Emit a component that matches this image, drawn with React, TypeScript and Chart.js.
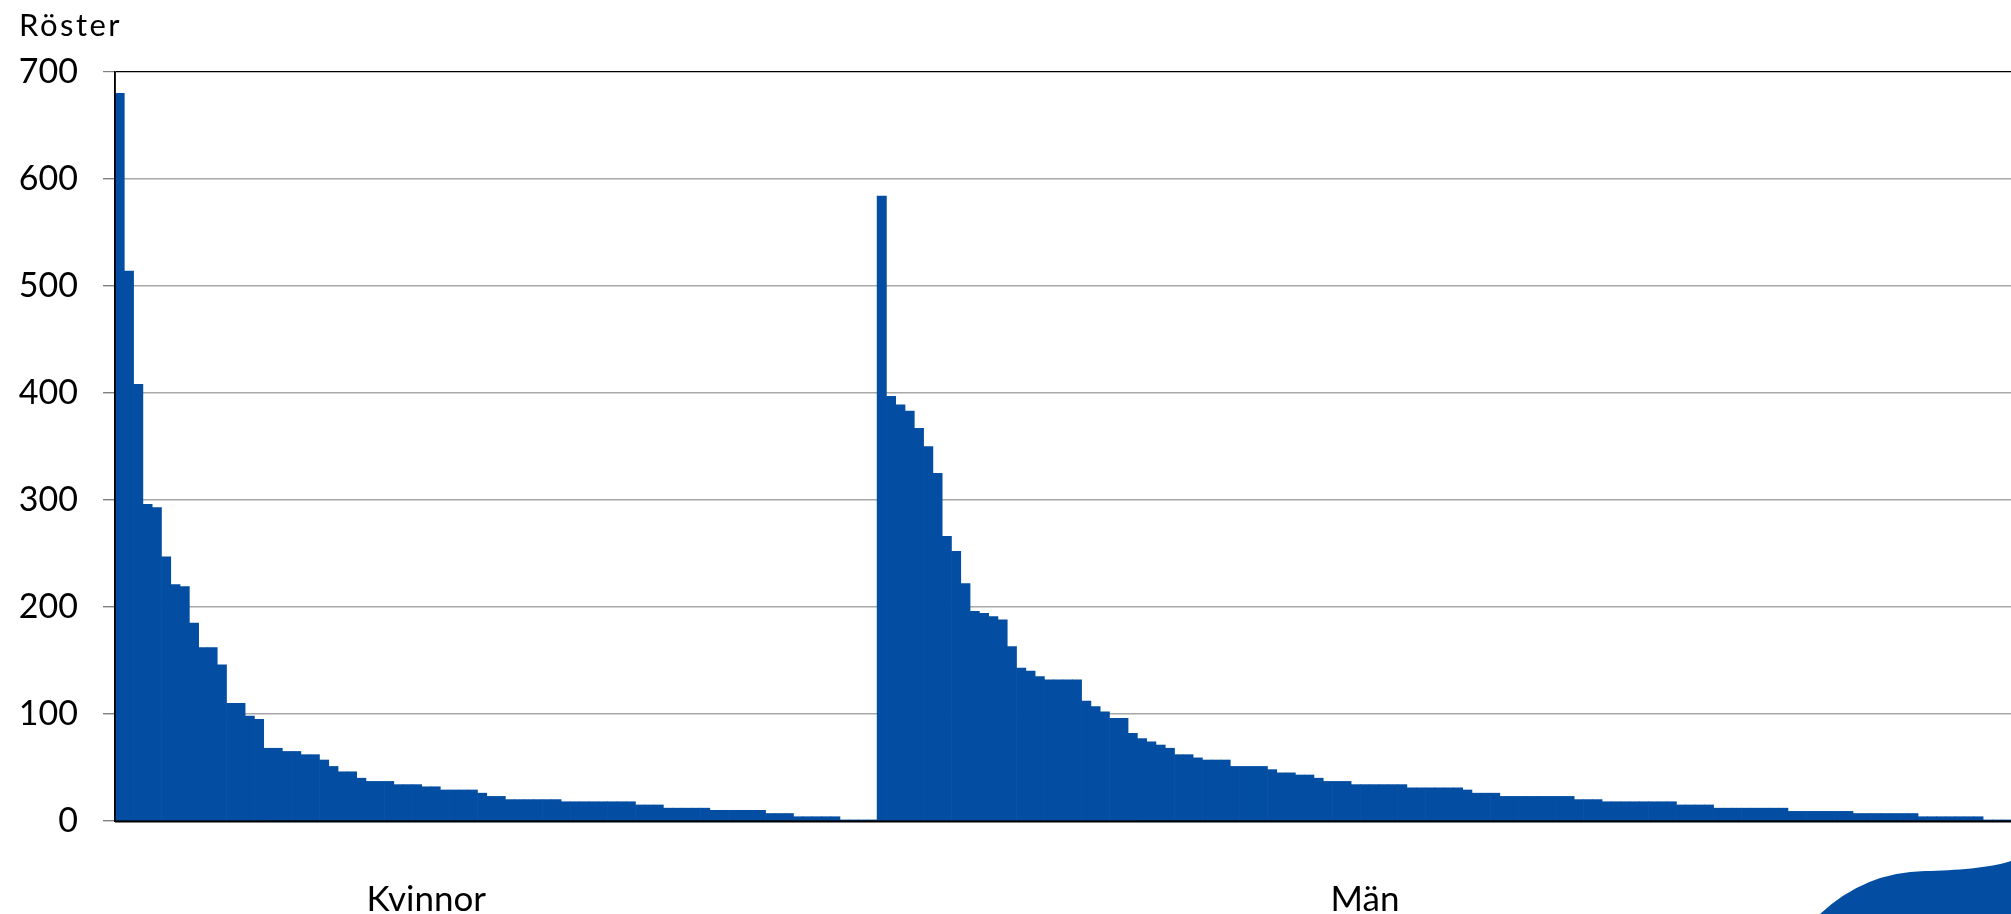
import React, { useEffect, useRef } from "react";
import { Chart, registerables } from "chart.js";

Chart.register(...registerables);

// Votes per candidate, sorted, women first then men
const kvinnorVotes: number[] = [
  680, 514, 408, 296, 293, 247, 221, 219, 185, 162, 162, 146, 110, 110, 98, 95,
  68, 68, 65, 65, 62, 62, 57, 51, 46, 46, 40, 37, 37, 37, 34, 34, 34, 32, 32,
  29, 29, 29, 29, 26, 23, 23, 20, 20, 20, 20, 20, 20, 18, 18, 18, 18, 18, 18,
  18, 18, 15, 15, 15, 12, 12, 12, 12, 12, 10, 10, 10, 10, 10, 10, 7, 7, 7, 4,
  4, 4, 4, 4, 1, 1, 1, 1,
];

const manVotes: number[] = [
  584, 397, 389, 383, 367, 350, 325, 266, 252, 222, 196, 194, 191, 188, 163,
  143, 140, 135, 132, 132, 132, 132, 112, 107, 102, 96, 96, 82, 77, 74, 71, 68,
  62, 62, 59, 57, 57, 57, 51, 51, 51, 51, 48, 45, 45, 43, 43, 40, 37, 37, 37,
  34, 34, 34, 34, 34, 34, 31, 31, 31, 31, 31, 31, 29, 26, 26, 26, 23, 23, 23,
  23, 23, 23, 23, 23, 20, 20, 20, 18, 18, 18, 18, 18, 18, 18, 18, 15, 15, 15,
  15, 12, 12, 12, 12, 12, 12, 12, 12, 9, 9, 9, 9, 9, 9, 9, 7, 7, 7, 7, 7, 7, 7,
  4, 4, 4, 4, 4, 4, 4, 1, 1, 1,
];

const groupNames: string[] = ["Kvinnor", "Män"];
const groupLabelIndex: number[] = [33, 134];
const yTickValues: number[] = [0, 100, 200, 300, 400, 500, 600, 700];
const yTitle = "Röster";

const barColor = "#034ea2";
const fontFamily = "Lato, 'Open Sans', sans-serif";

export default function App() {
  const canvasRef = useRef<HTMLCanvasElement | null>(null);

  useEffect(() => {
    const canvas = canvasRef.current;
    if (!canvas) return;

    const values = [...kvinnorVotes, ...manVotes];
    const labels = values.map((_, i) => {
      const g = groupLabelIndex.indexOf(i);
      return g >= 0 ? groupNames[g] : "";
    });

    const decorPlugin = {
      id: "decor",
      afterDatasetsDraw(chart: any) {
        const { ctx, chartArea } = chart;
        ctx.save();
        ctx.strokeStyle = "#000";
        ctx.lineWidth = 1.5;
        ctx.beginPath();
        ctx.moveTo(chartArea.left, chartArea.top);
        ctx.lineTo(chartArea.left, chartArea.bottom);
        ctx.stroke();
        ctx.lineWidth = 2;
        ctx.beginPath();
        ctx.moveTo(chartArea.left, chartArea.bottom + 0.5);
        ctx.lineTo(chartArea.right, chartArea.bottom + 0.5);
        ctx.stroke();
        ctx.restore();
      },
      afterDraw(chart: any) {
        const { ctx, chartArea, width, height } = chart;
        ctx.save();
        ctx.fillStyle = "#000";
        ctx.font = `31px ${fontFamily}`;
        ctx.textBaseline = "alphabetic";
        ctx.textAlign = "left";
        try {
          (ctx as any).letterSpacing = "2.5px";
        } catch (e) {
          /* ignore */
        }
        ctx.fillText(yTitle, chartArea.left - 96, chartArea.top - 36);
        try {
          (ctx as any).letterSpacing = "0px";
        } catch (e) {
          /* ignore */
        }
        // decorative wave in the bottom-right corner
        ctx.fillStyle = barColor;
        ctx.beginPath();
        ctx.moveTo(width - 191, height);
        ctx.quadraticCurveTo(width - 146, height - 42, width - 86, height - 43);
        ctx.bezierCurveTo(width - 56, height - 43.5, width - 21, height - 46, width, height - 53);
        ctx.lineTo(width, height);
        ctx.closePath();
        ctx.fill();
        ctx.restore();
      },
    };

    const chart = new Chart(canvas, {
      type: "bar",
      data: {
        labels,
        datasets: [
          {
            data: values,
            backgroundColor: barColor,
            borderWidth: 0,
            barPercentage: 1,
            categoryPercentage: 1,
          },
        ],
      },
      options: {
        animation: false,
        responsive: false,
        devicePixelRatio: 1,
        layout: { padding: { top: 72, right: 0, left: 0, bottom: 0 } },
        plugins: {
          legend: { display: false },
          tooltip: { enabled: false },
          title: { display: false },
        },
        scales: {
          x: {
            type: "category",
            offset: true,
            grid: { display: false, drawTicks: false },
            border: { display: true, color: "#000", width: 2 },
            ticks: {
              autoSkip: false,
              maxRotation: 0,
              minRotation: 0,
              padding: 58,
              color: "#000",
              font: { family: fontFamily, size: 35 },
            },
            afterFit: (scale: any) => {
              scale.height = 93;
              scale.paddingLeft = 0;
              scale.paddingRight = 0;
            },
          },
          y: {
            min: 0,
            max: 700,
            afterBuildTicks: (scale: any) => {
              scale.ticks = yTickValues.map((v) => ({ value: v }));
            },
            grid: {
              color: (ctx: any) => (ctx.tick && ctx.tick.value === 700 ? "#000" : "#a8a8a8"),
              lineWidth: (ctx: any) => (ctx.tick && ctx.tick.value === 700 ? 1.2 : 1.4),
              tickColor: "#7f7f7f",
              tickLength: 12,
              drawTicks: true,
            },
            border: { display: true, color: "#000", width: 1.5 },
            ticks: {
              padding: 25,
              color: "#000",
              font: { family: fontFamily, size: 34 },
              callback: (v: any) => String(v),
            },
            afterFit: (scale: any) => {
              scale.width = 115;
              scale.paddingTop = 0;
              scale.paddingBottom = 0;
            },
          },
        },
      },
      plugins: [decorPlugin],
    });

    return () => {
      chart.destroy();
    };
  }, []);

  return (
    <div
      style={{
        position: "absolute",
        left: 0,
        top: 0,
        width: "2011px",
        height: "914px",
        background: "#fff",
      }}
    >
      <canvas
        ref={canvasRef}
        width={2011}
        height={914}
        style={{ display: "block", width: "2011px", height: "914px" }}
      />
    </div>
  );
}
